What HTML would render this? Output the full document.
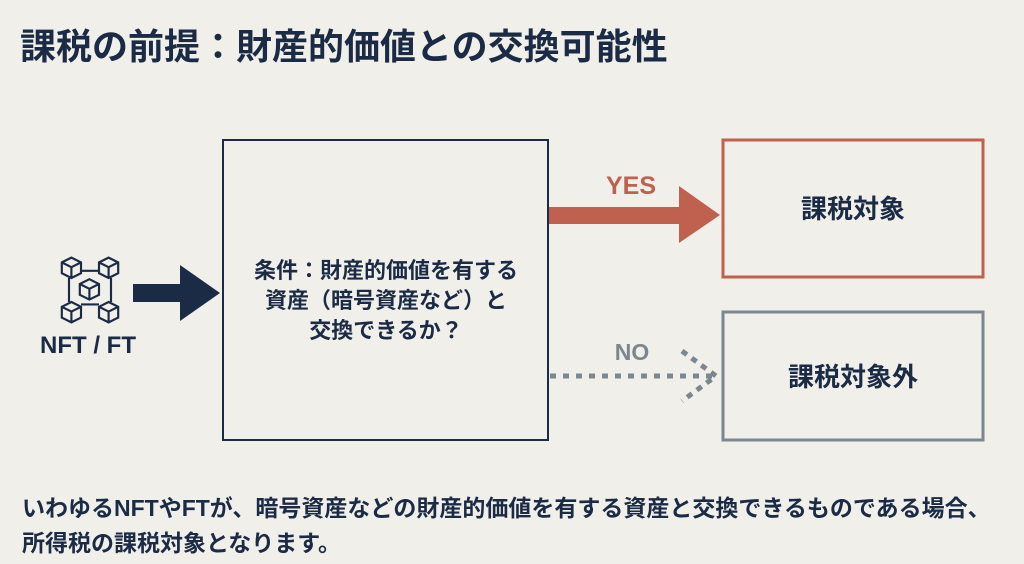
<!DOCTYPE html>
<html><head><meta charset="utf-8"><style>
html,body{margin:0;padding:0;background:#f0efea;}
body{width:1024px;height:559px;overflow:hidden;font-family:"Liberation Sans","Noto Sans CJK JP",sans-serif;}
</style></head><body>
<svg width="1024" height="559" viewBox="0 0 1024 559" xmlns="http://www.w3.org/2000/svg" font-family="Liberation Sans, Noto Sans CJK JP, sans-serif">
<rect width="1024" height="559" fill="#f0efea"/>
<text x="20" y="59" font-size="36" font-weight="700" fill="#1c2b45">課税の前提：財産的価値との交換可能性</text>
<rect x="223" y="140" width="325" height="300" fill="none" stroke="#1c2b45" stroke-width="2"/>
<g font-size="22" font-weight="700" fill="#1c2b45" text-anchor="middle">
<text x="386" y="278">条件：財産的価値を有する</text>
<text x="386" y="308">資産（暗号資産など）と</text>
<text x="386" y="338">交換できるか？</text>
</g>
<polygon points="133,284 180,284 180,265 220,293 180,321 180,302 133,302" fill="#1c2b45"/>
<g transform="translate(90,290) scale(1.2) translate(-93.5,-287)">
<g fill="none" stroke="#1c2b45" stroke-width="1.8">
<g id="c"><path d="M70,264 l8,-4 8,4 v9 l-8,4 -8,-4z M70,264 l8,4 8,-4 M78,268 v9"/></g>
<use href="#c" x="31"/><use href="#c" y="37"/><use href="#c" x="31" y="37"/>
<use href="#c" x="15" y="18"/>
<path d="M86,271 h15 M86,299 h15 M76,277 v20 M111,277 v20"/>
</g></g>
<text x="88" y="353" font-size="24" font-weight="700" fill="#1c2b45" text-anchor="middle">NFT / FT</text>
<text x="631" y="194" font-size="25" font-weight="700" fill="#c0614f" text-anchor="middle">YES</text>
<polygon points="549,207 679,207 679,186 720,215 679,243 679,224 549,224" fill="#c0614f"/>
<rect x="723" y="140" width="260" height="137" fill="none" stroke="#c0614f" stroke-width="3"/>
<text x="853" y="218" font-size="26" font-weight="700" fill="#1c2b45" text-anchor="middle">課税対象</text>
<text x="632" y="360" font-size="23" font-weight="700" fill="#7a8790" text-anchor="middle">NO</text>
<line x1="550" y1="376" x2="712" y2="376" stroke="#7a8790" stroke-width="5" stroke-dasharray="6,7"/>
<polyline points="682,351 716,376 682,401" fill="none" stroke="#7a8790" stroke-width="5" stroke-dasharray="6,6"/>
<rect x="723" y="312" width="260" height="128" fill="none" stroke="#7a8790" stroke-width="3"/>
<text x="853" y="386" font-size="26" font-weight="700" fill="#1c2b45" text-anchor="middle">課税対象外</text>
<g font-size="23" font-weight="700" fill="#1c2b45">
<text x="22" y="516">いわゆるNFTやFTが、暗号資産などの財産的価値を有する資産と交換できるものである場合、</text>
<text x="22" y="551">所得税の課税対象となります。</text>
</g>
</svg>
</body></html>
